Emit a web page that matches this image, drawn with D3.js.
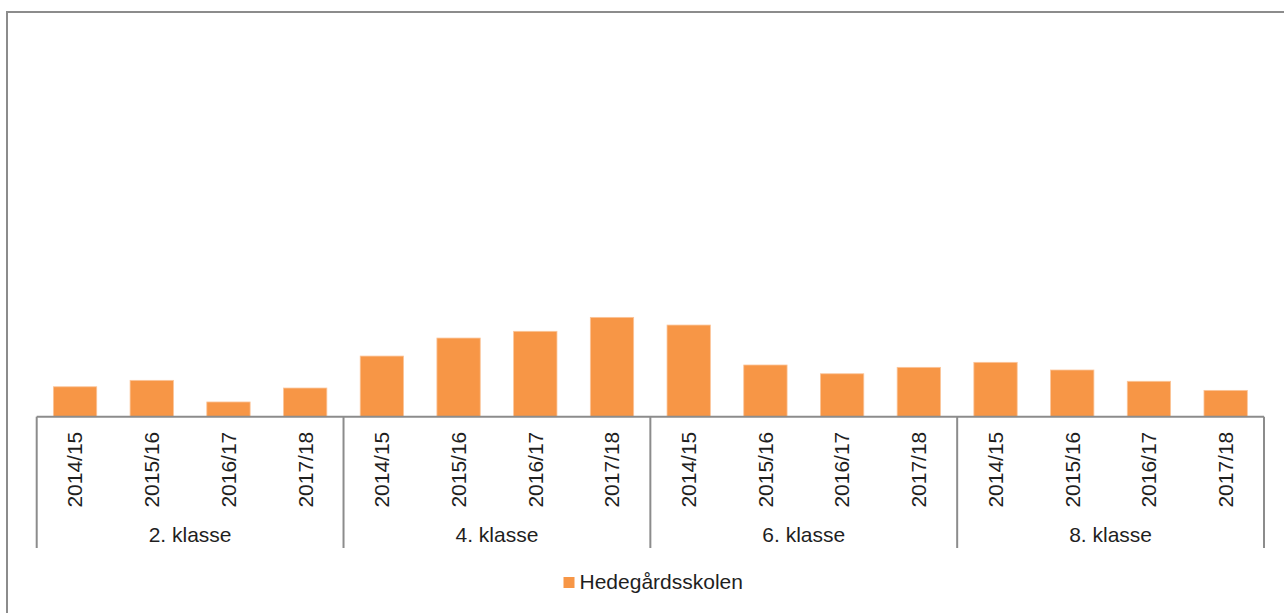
<!DOCTYPE html>
<html>
<head>
<meta charset="utf-8">
<script src="https://cdn.jsdelivr.net/npm/d3@7"></script>
<style>
  html, body { margin: 0; padding: 0; background: #fff; }
  svg { display: block; font-family: "Liberation Sans", Arial, sans-serif; }
</style>
</head>
<body>
<svg id="chart" width="1284" height="613"></svg>
<script>
const groups = ["2. klasse", "4. klasse", "6. klasse", "8. klasse"];
const years = ["2014/15", "2015/16", "2016/17", "2017/18"];
const seriesName = "Hedegårdsskolen";
const values = [1.91, 2.32, 0.94, 1.83, 3.87, 5.02, 5.45, 6.34, 5.85, 3.30, 2.74, 3.15, 3.47, 2.98, 2.26, 1.68];

const W = 1284, H = 613;
const svg = d3.select("#chart");
const gray = "#8c8c8c";
const textColor = "#1f1f1f";

// outer frame (only left and top visible in viewport)
svg.append("path")
  .attr("d", `M7,${H} L7,12 L${W},12`)
  .attr("fill", "none").attr("stroke", gray).attr("stroke-width", 2);

const plotL = 36.7, plotR = 1264, baseY = 416.7, topY = 25;
const idx = d3.range(values.length);
const x = d3.scaleBand().domain(idx).range([plotL, plotR]).paddingInner(0.435).paddingOuter(0.2175);
const y = d3.scaleLinear().domain([0, 25]).range([baseY, topY]);

// bars
svg.append("g").selectAll("rect").data(values).join("rect")
  .attr("x", (d, i) => x(i))
  .attr("y", d => y(d))
  .attr("width", x.bandwidth())
  .attr("height", d => y(0) - y(d))
  .attr("fill", "#F79646")
  .attr("stroke", "#fbc59a").attr("stroke-width", 0.8);

// x axis with rotated year labels
const xAxis = d3.axisBottom(x).tickSize(0).tickPadding(0).tickFormat(i => years[i % years.length]);
const gx = svg.append("g").attr("transform", `translate(0,${baseY})`).call(xAxis);
gx.select(".domain").remove();
gx.selectAll("text")
  .attr("transform", "rotate(-90)")
  .attr("x", -15).attr("y", 0).attr("dy", "0.35em")
  .attr("text-anchor", "end")
  .attr("font-size", 21)
  .attr("font-family", "'Liberation Sans', Arial, sans-serif")
  .attr("fill", textColor);

// axis line
svg.append("line")
  .attr("x1", plotL).attr("x2", plotR).attr("y1", baseY).attr("y2", baseY)
  .attr("stroke", gray).attr("stroke-width", 2);

// group dividers
const step = x.step();
const groupEdges = d3.range(groups.length + 1).map(g => plotL + g * years.length * step);
svg.append("g").selectAll("line").data(groupEdges).join("line")
  .attr("x1", d => d).attr("x2", d => d)
  .attr("y1", baseY).attr("y2", 548)
  .attr("stroke", gray).attr("stroke-width", 2);

// group labels
svg.append("g").selectAll("text").data(groups).join("text")
  .attr("x", (d, g) => plotL + (g + 0.5) * years.length * step)
  .attr("y", 542)
  .attr("text-anchor", "middle")
  .attr("font-size", 21)
  .attr("fill", textColor)
  .text(d => d);

// legend
const lg = svg.append("g");
lg.append("rect").attr("x", 563.5).attr("y", 577).attr("width", 11).attr("height", 11).attr("fill", "#F79646");
lg.append("text").attr("x", 579.5).attr("y", 589).attr("font-size", 21).attr("fill", textColor).text(seriesName);
</script>
</body>
</html>
